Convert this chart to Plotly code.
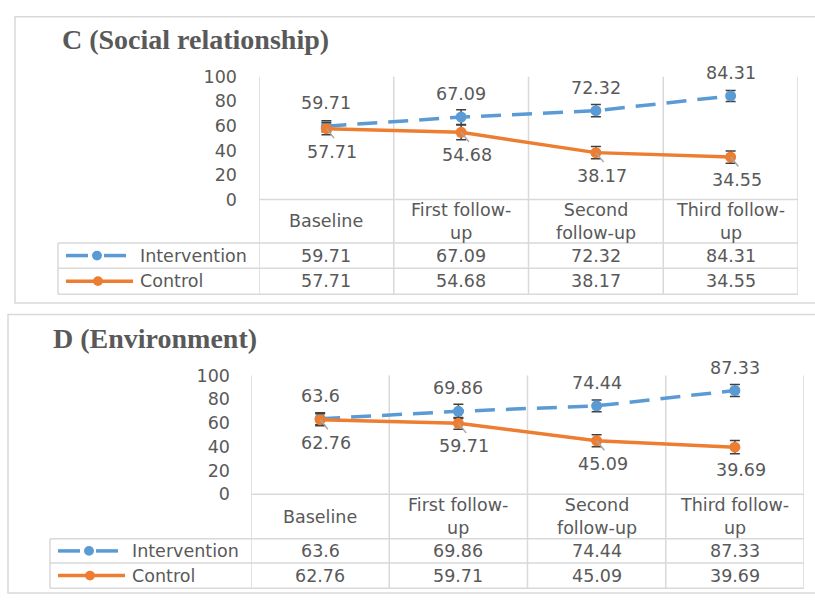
import plotly.graph_objects as go

# ---------------- data ----------------
categories = ["Baseline", "First follow-up", "Second follow-up", "Third follow-up"]
category_labels = ["Baseline", "First follow-<br>up", "Second<br>follow-up", "Third follow-<br>up"]
series_names = ["Intervention", "Control"]
y_ticks = [0, 20, 40, 60, 80, 100]

c_title = "C (Social relationship)"
c_intervention = [59.71, 67.09, 72.32, 84.31]
c_control = [57.71, 54.68, 38.17, 34.55]
c_intervention_err = [4.5, 6, 5, 4.5]
c_control_err = [5, 6, 5, 5]

d_title = "D (Environment)"
d_intervention = [63.6, 69.86, 74.44, 87.33]
d_control = [62.76, 59.71, 45.09, 39.69]
d_intervention_err = [5, 6, 5, 5]
d_control_err = [5, 5, 5, 5.5]

# ---------------- style ----------------
W, H = 815, 602
BLUE = "#5b9bd5"
ORANGE = "#ed7d31"
TXT = "#595959"
GRID = "#d9d9d9"
FONT = "DejaVu Sans"
FS = 17.5


def px(x):
    return x / W


def py(y):
    return 1 - y / H


fig = go.Figure()
shapes = []
annotations = []

panels = [
    dict(sfx="", title=c_title, inter=c_intervention, ctrl=c_control,
         inter_err=c_intervention_err, ctrl_err=c_control_err,
         border=(15, 7, 816, 303), title_pos=(60, 31),
         x0=259, x1=798, ytop=69, ybot=196, rows=(241, 267, 294),
         tleft=58, standoff=21, leg_x=66, leaders=[True, True, True, True]),
    dict(sfx="2", title=d_title, inter=d_intervention, ctrl=d_control,
         inter_err=d_intervention_err, ctrl_err=d_control_err,
         border=(8, 315, 816, 603), title_pos=(51, 340),
         x0=251, x1=804, ytop=378, ybot=501, rows=(547, 572, 598),
         tleft=50, standoff=20, leg_x=58, leaders=[True, True, True, False]),
]

xs = list(range(len(categories)))

for p in panels:
    sfx = p["sfx"]
    xa = "x" + sfx
    ya = "y" + sfx
    # axes
    fig.update_layout(**{
        "xaxis" + sfx: dict(domain=[px(p["x0"]), px(p["x1"])], range=[-0.5, 3.5],
                            visible=False, anchor=ya),
        "yaxis" + sfx: dict(domain=[py(p["ybot"]), py(p["ytop"])], range=[0, 100],
                            tickvals=y_ticks, showgrid=False, zeroline=False,
                            showline=False, ticks="", anchor=xa,
                            ticklabelstandoff=p["standoff"],
                            tickfont=dict(family=FONT, size=FS, color=TXT)),
    })

    # border
    bx0, by0, bx1, by1 = p["border"]
    shapes.append(dict(type="rect", xref="paper", yref="paper",
                       x0=px(bx0), x1=px(bx1), y0=py(by0), y1=py(by1),
                       line=dict(color=GRID, width=1.5), layer="below"))

    # title
    tx, ty = p["title_pos"]
    annotations.append(dict(text="<b>" + p["title"] + "</b>", xref="paper", yref="paper",
                            x=px(tx), y=py(ty), xanchor="left", yanchor="middle",
                            showarrow=False,
                            font=dict(family="Liberation Serif", size=28, color=TXT)))

    r_cat, r_int, r_ctl = p["rows"]
    # vertical grid / table lines
    for b in [-0.5, 0.5, 1.5, 2.5, 3.5]:
        shapes.append(dict(type="line", xref=xa, yref="paper", x0=b, x1=b,
                           y0=py(p["ytop"]), y1=py(r_ctl),
                           line=dict(color=GRID, width=1.5), layer="below"))
    # horizontal table lines
    shapes.append(dict(type="line", xref="paper", yref="paper",
                       x0=px(p["x0"]), x1=px(p["x1"]), y0=py(p["ybot"]), y1=py(p["ybot"]),
                       line=dict(color=GRID, width=1.5), layer="below"))
    for r in (r_cat, r_int, r_ctl):
        shapes.append(dict(type="line", xref="paper", yref="paper",
                           x0=px(p["tleft"]), x1=px(p["x1"]), y0=py(r), y1=py(r),
                           line=dict(color=GRID, width=1.5), layer="below"))
    shapes.append(dict(type="line", xref="paper", yref="paper",
                       x0=px(p["tleft"]), x1=px(p["tleft"]), y0=py(r_cat), y1=py(r_ctl),
                       line=dict(color=GRID, width=1.5), layer="below"))

    # traces
    fig.add_trace(go.Scatter(
        x=xs, y=p["inter"], mode="lines+markers", name=series_names[0],
        xaxis=xa, yaxis=ya, showlegend=False, hoverinfo="skip",
        line=dict(color=BLUE, width=3.5, dash="20px,11px"),
        marker=dict(color=BLUE, size=11),
        error_y=dict(type="data", array=p["inter_err"], color="#404040",
                     thickness=1.5, width=5)))
    fig.add_trace(go.Scatter(
        x=xs, y=p["ctrl"], mode="lines+markers", name=series_names[1],
        xaxis=xa, yaxis=ya, showlegend=False, hoverinfo="skip",
        line=dict(color=ORANGE, width=3.5),
        marker=dict(color=ORANGE, size=11),
        error_y=dict(type="data", array=p["ctrl_err"], color="#404040",
                     thickness=1.5, width=5)))

    # data labels
    for i, v in enumerate(p["inter"]):
        annotations.append(dict(text=str(v), x=i, y=v, xref=xa, yref=ya,
                                showarrow=False, yshift=23,
                                font=dict(family=FONT, size=FS, color=TXT)))
    for i, v in enumerate(p["ctrl"]):
        if p["leaders"][i]:
            annotations.append(dict(text="", x=i, y=v, xref=xa, yref=ya,
                                    showarrow=True, arrowhead=0, ax=9, ay=11,
                                    arrowcolor="#a6a6a6", arrowwidth=1.5, standoff=0))
        annotations.append(dict(text=str(v), x=i, y=v, xref=xa, yref=ya,
                                showarrow=False, yshift=-23, xshift=6,
                                font=dict(family=FONT, size=FS, color=TXT)))

    # table: category row
    for i, lab in enumerate(category_labels):
        annotations.append(dict(text=lab, x=i, xref=xa, yref="paper",
                                y=py((p["ybot"] + r_cat) / 2), yanchor="middle",
                                showarrow=False,
                                font=dict(family=FONT, size=FS, color=TXT)))
    # table: value rows
    for vals, r0, r1 in ((p["inter"], r_cat, r_int), (p["ctrl"], r_int, r_ctl)):
        for i, v in enumerate(vals):
            annotations.append(dict(text=str(v), x=i, xref=xa, yref="paper",
                                    y=py((r0 + r1) / 2), yanchor="middle",
                                    showarrow=False,
                                    font=dict(family=FONT, size=FS, color=TXT)))
    # table: legend keys
    lx = p["leg_x"]
    yi = (r_cat + r_int) / 2
    yc = (r_int + r_ctl) / 2
    for a, b in ((lx, lx + 22), (lx + 38, lx + 60)):
        shapes.append(dict(type="line", xref="paper", yref="paper",
                           x0=px(a), x1=px(b), y0=py(yi), y1=py(yi),
                           line=dict(color=BLUE, width=3.5)))
    shapes.append(dict(type="circle", xref="paper", yref="paper",
                       x0=px(lx + 26), x1=px(lx + 36), y0=py(yi + 5), y1=py(yi - 5),
                       fillcolor=BLUE, line=dict(color=BLUE, width=0)))
    shapes.append(dict(type="line", xref="paper", yref="paper",
                       x0=px(lx), x1=px(lx + 67), y0=py(yc), y1=py(yc),
                       line=dict(color=ORANGE, width=3.5)))
    shapes.append(dict(type="circle", xref="paper", yref="paper",
                       x0=px(lx + 27), x1=px(lx + 37), y0=py(yc + 5), y1=py(yc - 5),
                       fillcolor=ORANGE, line=dict(color=ORANGE, width=0)))
    for name, yy in ((series_names[0], yi), (series_names[1], yc)):
        annotations.append(dict(text=name, xref="paper", yref="paper",
                                x=px(lx + 72), y=py(yy), xanchor="left", yanchor="middle",
                                showarrow=False,
                                font=dict(family=FONT, size=FS, color=TXT)))

fig.update_layout(width=W, height=H, autosize=False,
                  margin=dict(l=0, r=0, t=0, b=0, pad=0),
                  paper_bgcolor="white", plot_bgcolor="rgba(0,0,0,0)",
                  shapes=shapes, annotations=annotations, showlegend=False)

post_js = (
    "var h=document.documentElement,b=document.body;"
    "h.style.margin='0';h.style.padding='0';h.style.overflow='hidden';"
    "b.style.margin='0';b.style.padding='0';b.style.overflow='hidden';"
)

fig.write_html("out.html",
               config={"responsive": False, "displayModeBar": False, "staticPlot": True},
               post_script=post_js)
